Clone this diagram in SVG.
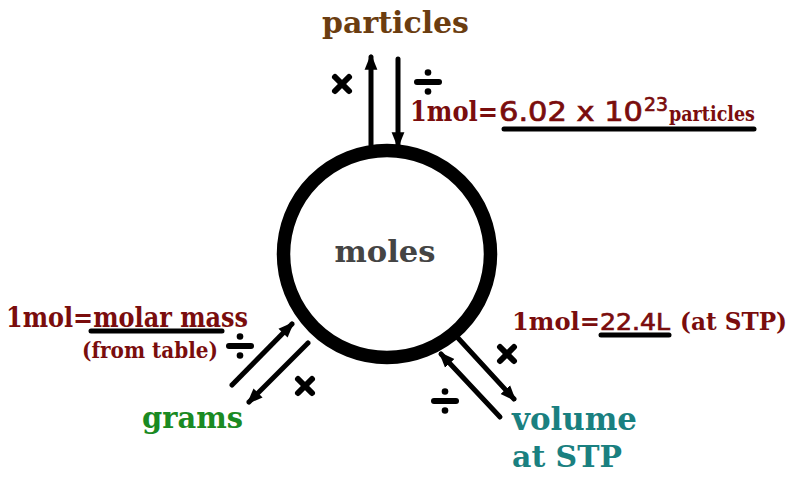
<svg xmlns="http://www.w3.org/2000/svg" width="800" height="493" viewBox="0 0 800 493">
<style>
.lbl{font-family:"DejaVu Serif","Liberation Serif",serif;font-weight:bold}
.num{font-family:"DejaVu Sans","Liberation Sans",sans-serif;stroke:#7a0d0d;stroke-width:0.7}
.red{fill:#7a0d0d}
.ln{stroke:#000;stroke-width:5;fill:none;stroke-linecap:round}
.op{stroke:#000;stroke-width:6;stroke-linecap:round}
</style>
<defs>
<marker id="ah" viewBox="0 0 10 10" refX="8" refY="5" markerWidth="3.2" markerHeight="3.2" orient="auto" markerUnits="strokeWidth">
<path d="M0,1 L10,5 L0,9 Z" fill="#000"/>
</marker>
<g id="times"><line x1="-7" y1="-7" x2="7" y2="7" class="op"/><line x1="7" y1="-7" x2="-7" y2="7" class="op"/></g>
<g id="div"><line x1="-11" y1="0" x2="11" y2="0" class="op" stroke-width="4.5"/><circle cx="0" cy="-9.5" r="3.3"/><circle cx="0" cy="9.5" r="3.3"/></g>
</defs>
<rect width="800" height="493" fill="#fff"/>
<g id="moles">
<circle cx="387" cy="254" r="103.5" fill="#fff" stroke="#000" stroke-width="13.5"/>
<text x="385" y="262" class="lbl" font-size="29" fill="#444" text-anchor="middle" textLength="101" lengthAdjust="spacingAndGlyphs">moles</text>
</g>
<g id="particles">
<text x="322" y="33" class="lbl" font-size="30" fill="#6b3d10" textLength="147" lengthAdjust="spacingAndGlyphs">particles</text>
</g>
<g id="grams">
<text x="142" y="428" class="lbl" font-size="29" fill="#1a8a22" textLength="101" lengthAdjust="spacingAndGlyphs">grams</text>
</g>
<g id="volume">
<text x="512" y="430" class="lbl" font-size="31" fill="#1a8080" textLength="125" lengthAdjust="spacingAndGlyphs">volume</text>
<text x="512" y="467" class="lbl" font-size="29" fill="#1a8080" textLength="110" lengthAdjust="spacingAndGlyphs">at STP</text>
</g>
<g id="connectors">
<line x1="371" y1="145" x2="371" y2="57" class="ln" marker-end="url(#ah)"/>
<line x1="398" y1="59" x2="398" y2="145" class="ln" marker-end="url(#ah)"/>
<line x1="232" y1="385" x2="292" y2="324" class="ln" marker-end="url(#ah)"/>
<line x1="308" y1="343" x2="249" y2="402" class="ln" marker-end="url(#ah)"/>
<line x1="458" y1="338" x2="514" y2="399" class="ln" marker-end="url(#ah)"/>
<line x1="500" y1="417" x2="441" y2="354" class="ln" marker-end="url(#ah)"/>
</g>
<g id="operators">
<use href="#times" x="342" y="84"/>
<use href="#div" x="428" y="82"/>
<use href="#div" x="240" y="346"/>
<use href="#times" x="305" y="386"/>
<use href="#times" x="507" y="354"/>
<use href="#div" x="445" y="401"/>
</g>
<g id="label-particles">
<text x="410" y="121" class="lbl red" font-size="27" textLength="88" lengthAdjust="spacingAndGlyphs">1mol=</text>
<text x="499" y="121" class="num red" font-size="26" textLength="144" lengthAdjust="spacingAndGlyphs">6.02 x 10</text>
<text x="644" y="111" class="num red" font-size="19" textLength="24" lengthAdjust="spacingAndGlyphs">23</text>
<text x="669" y="121" class="lbl red" font-size="21" textLength="86" lengthAdjust="spacingAndGlyphs">particles</text>
<line x1="504" y1="129" x2="754" y2="129" class="ln"/>
</g>
<g id="label-grams">
<text x="6" y="327" class="lbl red" font-size="27" textLength="242" lengthAdjust="spacingAndGlyphs">1mol=molar mass</text>
<line x1="91" y1="331" x2="222" y2="331" class="ln"/>
<text x="82" y="358" class="lbl red" font-size="23" textLength="136" lengthAdjust="spacingAndGlyphs">(from table)</text>
</g>
<g id="label-volume">
<text x="512" y="330" class="lbl red" font-size="24" textLength="88" lengthAdjust="spacingAndGlyphs">1mol=</text>
<text x="600" y="330" class="num red" font-size="23" textLength="70" lengthAdjust="spacingAndGlyphs">22.4L</text>
<text x="680" y="330" class="lbl red" font-size="24" textLength="107" lengthAdjust="spacingAndGlyphs">(at STP)</text>
<line x1="601" y1="335" x2="669" y2="335" class="ln"/>
</g>
</svg>
